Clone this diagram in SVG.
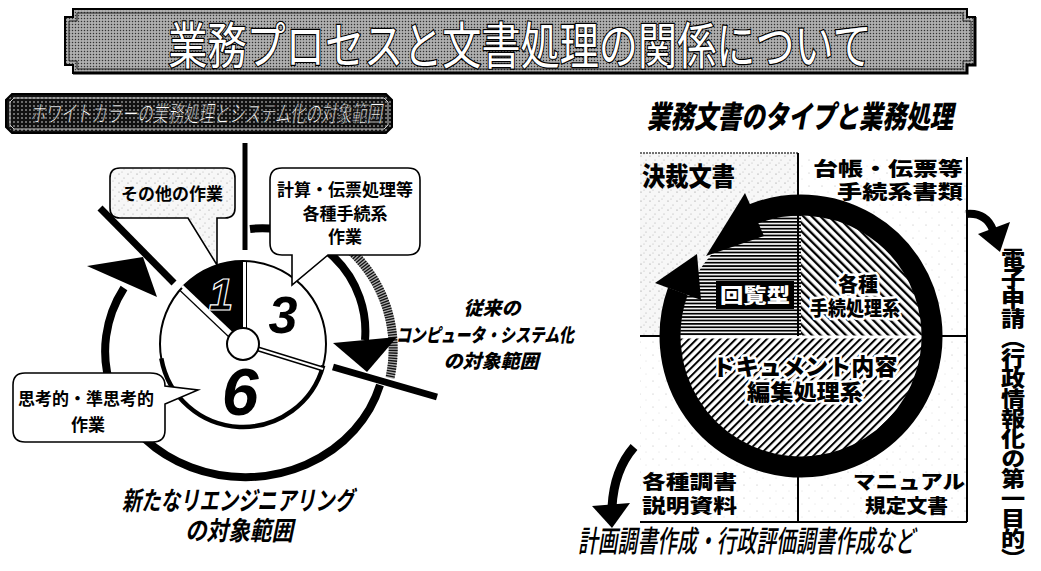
<svg xmlns="http://www.w3.org/2000/svg" width="1041" height="571" viewBox="0 0 1041 571">
<style>
.jp{font-family:'Noto Sans CJK JP','Noto Sans',sans-serif}
.b{font-weight:700}
.k{font-weight:900}
.it{font-style:italic}
.halo{stroke:#fff;stroke-width:5;paint-order:stroke;stroke-linejoin:round}
.num{font-family:'Liberation Sans',Arial,sans-serif;font-weight:700;font-style:italic}
.thick{fill:none;stroke:#000}
.call{stroke:#000;stroke-width:1.6}
</style>
<defs>
<pattern id="pGray" width="3" height="3" patternUnits="userSpaceOnUse"><rect width="3" height="3" fill="#9c9c9c"/><rect width="1" height="1" fill="#333"/><rect x="1.5" y="1.5" width="1" height="1" fill="#e8e8e8"/></pattern>
<pattern id="pDark" width="4" height="4" patternUnits="userSpaceOnUse"><rect width="4" height="4" fill="#111"/><circle cx="2" cy="2" r="0.8" fill="#ddd"/></pattern>
<pattern id="pStip" width="9" height="9" patternUnits="userSpaceOnUse"><rect width="9" height="9" fill="#f7f7f7"/><circle cx="2" cy="3" r="0.6" fill="#888"/><circle cx="7" cy="7" r="0.5" fill="#999"/><circle cx="5" cy="1" r="0.5" fill="#aaa"/></pattern>
<pattern id="pStip2" width="13" height="13" patternUnits="userSpaceOnUse"><rect width="13" height="13" fill="#fff"/><circle cx="3" cy="4" r="0.5" fill="#aaa"/><circle cx="9" cy="10" r="0.4" fill="#bbb"/></pattern>
<pattern id="pH" width="6" height="3.4" patternUnits="userSpaceOnUse"><rect width="6" height="3.4" fill="#fff"/><rect width="6" height="1.8" fill="#000"/></pattern>
<pattern id="pB" width="6" height="6" patternUnits="userSpaceOnUse" patternTransform="rotate(-45)"><rect width="6" height="6" fill="#fff"/><rect width="2.3" height="6" fill="#000"/></pattern>
<pattern id="pF" width="5.5" height="5.5" patternUnits="userSpaceOnUse" patternTransform="rotate(45)"><rect width="5.5" height="5.5" fill="#fff"/><rect width="2" height="5.5" fill="#000"/></pattern>
</defs>
<rect width="1041" height="571" fill="#fff"/>

<!-- Title banner -->
<g id="title">
<path d="M73 9 H967 V17 H975 V65 H967 V73 H73 V65 H65 V17 H73 Z" fill="url(#pGray)" stroke="#000" stroke-width="2"/>
<path d="M77 13 H963 V21 H971 V61 H963 V69 H77 V61 H69 V21 H77 Z" fill="none" stroke="#222" stroke-width="1"/>
<path d="M975 17 V65 H967 V73 H73" fill="none" stroke="#000" stroke-width="3"/>
<text transform="translate(520 64) scale(0.783 1)" text-anchor="middle" class="jp" font-size="50" fill="#fff" stroke="#000" stroke-width="2.4" paint-order="stroke">業務プロセスと文書処理の関係について</text>
</g>

<!-- Subtitle bar -->
<g id="subtitle">
<path d="M12 94 H386 L392 100 V127 L386 133 H12 L6 127 V100 Z" fill="url(#pDark)" stroke="#000" stroke-width="2"/>
<path d="M14 98 H384 L388 102 V125 L384 129 H14 L10 125 V102 Z" fill="none" stroke="#ccc" stroke-width="1"/>
<text x="30" y="122" textLength="352" lengthAdjust="spacingAndGlyphs" class="jp it" font-size="23" fill="#fff" stroke="#000" stroke-width="0.6">ホワイトカラーの業務処理とシステム化の対象範囲</text>
</g>

<!-- Left diagram -->
<g id="connectors">
<path d="M245 143 V250" class="thick" stroke-width="5"/>
<path d="M100 208 L174 283" class="thick" stroke-width="7"/>
<path d="M333 367 L437 397" class="thick" stroke-width="7"/>
<path d="M350 250 A135 135 0 0 1 390 378" fill="none" stroke="#aaa" stroke-width="9"/>
<path d="M350 250 A135 135 0 0 1 390 378" fill="none" stroke="#111" stroke-width="9" stroke-dasharray="1.3 1.3"/>
<path d="M250 229 A103 103 0 0 1 365 340" class="thick" stroke-width="8"/>
<polygon points="333,343 397,337 367,372" fill="#000"/>
<path d="M380 385 A140 126 0 1 1 124 288" class="thick" stroke-width="8"/>
<polygon points="87,266 157,297 143,257" fill="#000"/>
</g>

<g id="pie">
<circle cx="243" cy="344" r="83" fill="#fff" stroke="#000" stroke-width="2"/>
<path d="M323.2 365.5 A83 83 0 0 1 161.3 358.4" class="thick" stroke-width="4.5"/>
<path d="M243 344 L182.8 286.9 A83 83 0 0 1 243 261 Z" fill="#000"/>
<path d="M243 344 L182 286" stroke="#fff" stroke-width="3"/>
<path d="M240 347.5 L179.5 290" stroke="#000" stroke-width="1.2"/>
<path d="M244.5 262 V330" stroke="#fff" stroke-width="2"/>
<path d="M246.5 262 V330" stroke="#000" stroke-width="1"/>
<path d="M255 348 L323 369" stroke="#000" stroke-width="5"/>
<path d="M255 348 L323 369" stroke="#fff" stroke-width="2"/>
<circle cx="243" cy="344" r="16" fill="#fff" stroke="#000" stroke-width="2"/>
<text x="221" y="310" text-anchor="middle" class="num" font-size="44" fill="#000" stroke="#fff" stroke-width="1.2">1</text>
<text x="283" y="333" text-anchor="middle" class="num" font-size="52">3</text>
<text x="240" y="415" text-anchor="middle" class="num" font-size="66">6</text>
</g>

<g id="callout-other">
<path d="M120 168 H225 Q235 168 235 178 V208 Q235 218 225 218 H217 L217 265 L188 218 H120 Q110 218 110 208 V178 Q110 168 120 168 Z" fill="url(#pStip)" class="call"/>
<text x="172" y="200" text-anchor="middle" class="jp b" font-size="17">その他の作業</text>
</g>

<g id="callout-calc">
<path d="M282 168 H408 Q420 168 420 180 V243 Q420 255 408 255 H328 L292 285 L292 255 H282 Q270 255 270 243 V180 Q270 168 282 168 Z" fill="#fff" class="call"/>
<text x="345" y="196" text-anchor="middle" class="jp b" font-size="17">計算・伝票処理等</text>
<text x="345" y="220" text-anchor="middle" class="jp b" font-size="17">各種手続系</text>
<text x="345" y="243" text-anchor="middle" class="jp b" font-size="17">作業</text>
</g>

<g id="callout-think">
<path d="M25 373 H150 Q165 373 165 386 L198 390 L165 404 V430 Q165 442 153 442 H25 Q13 442 13 430 V385 Q13 373 25 373 Z" fill="#fff" class="call"/>
<text x="86" y="405" text-anchor="middle" class="jp b" font-size="17">思考的・準思考的</text>
<text x="88" y="431" text-anchor="middle" class="jp b" font-size="17">作業</text>
</g>

<g id="label-conventional">
<text x="492" y="315" text-anchor="middle" class="jp k it" font-size="19">従来の</text>
<text x="485" y="342" text-anchor="middle" class="jp k it" font-size="19" textLength="178" lengthAdjust="spacingAndGlyphs">コンピュータ・システム化</text>
<text x="491" y="368" text-anchor="middle" class="jp k it" font-size="19">の対象範囲</text>
</g>

<g id="label-reeng">
<text x="238" y="510" text-anchor="middle" class="jp b it" font-size="26" textLength="232" lengthAdjust="spacingAndGlyphs">新たなリエンジニアリング</text>
<text x="239" y="540" text-anchor="middle" class="jp b it" font-size="26" textLength="108" lengthAdjust="spacingAndGlyphs">の対象範囲</text>
</g>

<!-- Right diagram -->
<g id="right-title">
<text transform="translate(800 128) scale(0.76 1)" text-anchor="middle" class="jp k it" font-size="31">業務文書のタイプと業務処理</text>
</g>

<g id="quadrants">
<rect x="640" y="153" width="158" height="183" fill="url(#pStip)"/>
<rect x="798" y="157" width="169" height="179" fill="url(#pStip2)"/>
<rect x="640" y="336" width="327" height="186" fill="url(#pStip2)"/>
<path d="M640 153 H798" stroke="#444" stroke-width="1.5" stroke-dasharray="2 1"/>
<path d="M798 153 V522 M967 157 V522 M640 522 H967 M640 336 H967" stroke="#000" stroke-width="2" fill="none"/>
</g>

<g id="cycle">
<path d="M801 336 L801 215 A121 121 0 0 1 922 336 Z" fill="url(#pB)"/>
<path d="M680 336 A121 121 0 0 0 922 336 Z" fill="url(#pF)"/>
<path d="M801 336 L680 336 A121 121 0 0 1 801 215 Z" fill="url(#pH)"/>
<path d="M680 337 H922" stroke="#fff" stroke-width="3"/>
<path d="M798 215 V336" stroke="#000" stroke-width="2"/>
<path d="M753.2 214 A131 131 0 1 1 677.9 291.2" fill="none" stroke="#000" stroke-width="21"/>
<polygon points="745,193 764,236 706,256" fill="#000"/>
<polygon points="655,283 701,300 697,254" fill="#000"/>
<rect x="716" y="281" width="78" height="28" fill="#000"/>
<text x="755" y="303" text-anchor="middle" class="jp k" font-size="20" fill="#fff" textLength="70" lengthAdjust="spacingAndGlyphs">回覧型</text>
</g>

<g id="quadrant-texts">
<text x="642" y="186" class="jp k" font-size="26" textLength="93" lengthAdjust="spacingAndGlyphs">決裁文書</text>
<text x="963" y="176" text-anchor="end" class="jp k" font-size="19" textLength="150" lengthAdjust="spacingAndGlyphs">台帳・伝票等</text>
<text x="963" y="199" text-anchor="end" class="jp k" font-size="19" textLength="126" lengthAdjust="spacingAndGlyphs">手続系書類</text>
<text x="858" y="292" text-anchor="middle" class="jp k halo" font-size="20">各種</text>
<text x="855" y="316" text-anchor="middle" class="jp k halo" font-size="20" textLength="90" lengthAdjust="spacingAndGlyphs">手続処理系</text>
<text x="805" y="375" text-anchor="middle" class="jp k halo" font-size="23" textLength="185" lengthAdjust="spacingAndGlyphs">ドキュメント内容</text>
<text x="805" y="400" text-anchor="middle" class="jp k halo" font-size="22" textLength="116" lengthAdjust="spacingAndGlyphs">編集処理系</text>
<text x="642" y="489" class="jp k" font-size="19" textLength="95" lengthAdjust="spacingAndGlyphs">各種調書</text>
<text x="642" y="513" class="jp k" font-size="19" textLength="95" lengthAdjust="spacingAndGlyphs">説明資料</text>
<text x="965" y="489" text-anchor="end" class="jp k" font-size="19" textLength="112" lengthAdjust="spacingAndGlyphs">マニュアル</text>
<text x="948" y="513" text-anchor="end" class="jp k" font-size="19" textLength="83" lengthAdjust="spacingAndGlyphs">規定文書</text>
</g>

<g id="arrows-right">
<path d="M966 214 Q986 212 993 230" fill="none" stroke="#000" stroke-width="8"/>
<polygon points="978,234 1010,222 1000,252" fill="#000"/>
<path d="M634 447 Q614 470 612 507" fill="none" stroke="#000" stroke-width="9"/>
<polygon points="592,506 630,503 612,528" fill="#000"/>
</g>

<g id="bottom-label">
<text transform="translate(578 552) scale(0.66 1)" class="jp it" font-weight="500" font-size="30">計画調書作成・行政評価調書作成など</text>
</g>

<g id="vertical-label">
<text transform="translate(1013 248) scale(1.15 1)" x="0" y="0" class="jp k" font-size="21" writing-mode="vertical-rl" letter-spacing="-1">電子申請（行政情報化の第一目的）</text>
</g>
</svg>
